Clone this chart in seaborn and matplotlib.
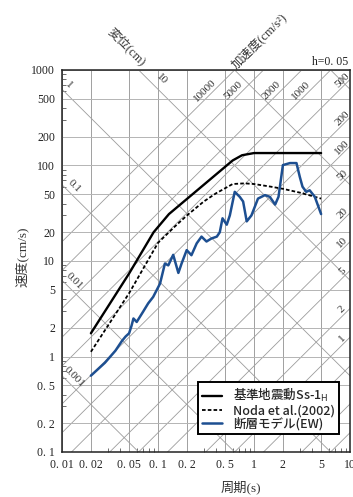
import numpy as np
import pandas as pd
import matplotlib
matplotlib.use("Agg")
import matplotlib.pyplot as plt
import seaborn as sns
from matplotlib.ticker import FixedLocator, FixedFormatter, NullFormatter

# period (s) / pseudo velocity (cm/s)
ss_T = [0.02, 0.05, 0.09, 0.13, 0.6, 0.75, 1.0, 5.0]
ss_Sv = [1.75, 7.4, 20.0, 31.0, 113, 128, 135, 135]

noda_T = [0.02, 0.05, 0.1, 0.15, 0.2, 0.3, 0.4, 0.6, 0.8, 1.0, 1.5, 2.0, 3.0, 4.0, 5.0]
noda_Sv = [1.12, 4.6, 15.5, 23, 30, 42, 51, 64, 65, 64, 60, 57, 52, 48, 45]

ew_T = [0.02, 0.028, 0.036, 0.042, 0.046, 0.05, 0.053, 0.0555, 0.06, 0.07, 0.079,
        0.089, 0.105, 0.118, 0.128, 0.144, 0.163, 0.176, 0.199, 0.223, 0.253,
        0.284, 0.32, 0.36, 0.41, 0.44, 0.47, 0.52, 0.56, 0.63, 0.71, 0.77, 0.84,
        0.94, 1.1, 1.3, 1.46, 1.66, 1.8, 2.0, 2.37, 2.77, 3.0, 3.2, 3.5, 3.8,
        4.3, 5.0]
ew_Sv = [0.63, 0.86, 1.15, 1.45, 1.62, 1.75, 2.1, 2.5, 2.3, 2.95, 3.6,
         4.2, 5.8, 9.4, 9.0, 11.6, 7.5, 9.4, 13, 11.5, 15.3,
         18, 16, 17.2, 18, 20, 28, 24, 30, 53, 47, 42, 26,
         30, 45, 49, 47, 39, 47, 101, 106, 106, 76, 60, 53, 55,
         47, 31]

# tripartite grid values
acc_lines = [0.1, 0.2, 0.5, 1, 2, 5, 10, 20, 50, 100, 200, 500, 1000, 2000, 5000, 10000]
disp_lines = [0.001, 0.01, 0.1, 1, 10, 100, 1000]
acc_top_labels = [10000, 5000, 2000, 1000]
acc_side_labels = [500, 200, 100, 50, 20, 10, 5, 2, 1]
disp_labels = [0.001, 0.01, 0.1, 1]

x_ticks = [0.01, 0.02, 0.05, 0.1, 0.2, 0.5, 1, 2, 5, 10]
x_labels = ["0. 01", "0. 02", "0. 05", "0. 1", "0. 2", "0. 5", "1", "2", "5", "10"]
y_ticks = [0.1, 0.2, 0.5, 1, 2, 5, 10, 20, 50, 100, 200, 500, 1000]
y_labels = ["0. 1", "0. 2", "0. 5", "1", "2", "5", "10", "20", "50", "100", "200", "500", "1000"]

sns.set_theme(style="white")
serif = ["Liberation Serif", "Noto Sans CJK JP"]
plt.rcParams["font.family"] = serif

W, H = 353, 497
fig = plt.figure(figsize=(W / 100, H / 100), dpi=100)
ax = fig.add_axes([62 / W, 1 - 452 / H, 288 / W, 382 / H])
ax.set_xscale("log")
ax.set_yscale("log")
ax.set_xlim(0.01, 10)
ax.set_ylim(0.1, 1000)

gcol = "#9c9c9c"
T = np.array([0.01, 10.0])
for a in acc_lines:
    ax.plot(T, a * T / (2 * np.pi), color=gcol, lw=0.6, zorder=1)
for d in disp_lines:
    ax.plot(T, 2 * np.pi * d / T, color=gcol, lw=0.6, zorder=1)

for v in x_ticks:
    ax.axvline(v, color="#a0a0a0", lw=0.7, zorder=1)
for v in y_ticks:
    ax.axhline(v, color="#b4b4b4", lw=0.7, zorder=1)

lab = dict(fontsize=8, color="#333333", ha="center", va="center",
           textcoords="offset points", zorder=3)
for a in acc_top_labels:
    t = 2 * np.pi * 540 / a
    ax.annotate(f"{a}", (t, 540), xytext=(-3, 4), rotation=45, **lab)
for a in acc_side_labels:
    t = 8.87
    ax.annotate(f"{a}", (t, a * t / (2 * np.pi)), xytext=(-2, 3), rotation=45, **lab)
for d in disp_labels:
    t = 0.0125 if d < 1 else 0.011
    ax.annotate(f"{d:g}", (t, 2 * np.pi * d / t), xytext=(2, 6), rotation=-45, **lab)
ax.annotate("10", (0.1, 2 * np.pi * 10 / 0.1), xytext=(3, 7), rotation=-45, **lab)

ss = pd.DataFrame({"T": ss_T, "Sv": ss_Sv})
noda = pd.DataFrame({"T": noda_T, "Sv": noda_Sv})
ew = pd.DataFrame({"T": ew_T, "Sv": ew_Sv})
sns.lineplot(data=ss, x="T", y="Sv", ax=ax, color="black", lw=1.7,
             label=r"基準地震動Ss-1$_\mathrm{H}$", sort=False, estimator=None, zorder=4)
sns.lineplot(data=noda, x="T", y="Sv", ax=ax, color="black", lw=1.3,
             linestyle=(0, (2, 1.2)), label="Noda et al.(2002)",
             sort=False, estimator=None, zorder=4)
sns.lineplot(data=ew, x="T", y="Sv", ax=ax, color="#1d4f91", lw=1.8,
             label="断層モデル(EW)", sort=False, estimator=None, zorder=5)

ax.xaxis.set_major_locator(FixedLocator(x_ticks))
ax.xaxis.set_major_formatter(FixedFormatter(x_labels))
ax.yaxis.set_major_locator(FixedLocator(y_ticks))
ax.yaxis.set_major_formatter(FixedFormatter(y_labels))
x_minor = [m * 10.0 ** e for e in range(-2, 1) for m in (3, 4, 6, 7, 8, 9)]
y_minor = [m * 10.0 ** e for e in range(-1, 3) for m in (3, 4, 6, 7, 8, 9)]
ax.xaxis.set_minor_locator(FixedLocator(x_minor))
ax.yaxis.set_minor_locator(FixedLocator(y_minor))
ax.xaxis.set_minor_formatter(NullFormatter())
ax.yaxis.set_minor_formatter(NullFormatter())
ax.tick_params(which="major", length=0, pad=5, labelsize=8.5, colors="#222222")
ax.tick_params(which="minor", direction="in", length=3, width=0.6, color="#555555",
               bottom=True, left=True)
ax.set_xlabel("")
ax.set_ylabel("")
for s in ax.spines.values():
    s.set_color("#222222")
    s.set_linewidth(1.1)

fig.text(22 / W, 1 - 257 / H, "速度(cm/s)", rotation=90, ha="center", va="center",
         fontsize=9.5, color="#333333")
fig.text(241 / W, 1 - 487 / H, "周期(s)", ha="center", va="center",
         fontsize=9.5, color="#333333")
fig.text(127 / W, 1 - 47 / H, "変位(cm)", rotation=-45, ha="center", va="center",
         fontsize=9, color="#333333")
fig.text(259 / W, 1 - 41 / H, "加速度(cm/s²)", rotation=45, ha="center", va="center",
         fontsize=9, color="#333333")
fig.text(312 / W, 1 - 62 / H, "h=0. 05", ha="left", va="center",
         fontsize=8.5, color="#222222")

leg = ax.legend(loc="lower left", bbox_to_anchor=(0.45, 0.03), frameon=True,
                fancybox=False, framealpha=1, edgecolor="black",
                prop={"family": "Noto Sans CJK JP", "size": 9, "weight": "medium"},
                handlelength=1.6, handletextpad=0.9, labelspacing=0.0,
                borderpad=0.3)
leg.get_frame().set_linewidth(1.4)
leg.set_zorder(6)

fig.savefig("out.png", dpi=100, facecolor="white")
